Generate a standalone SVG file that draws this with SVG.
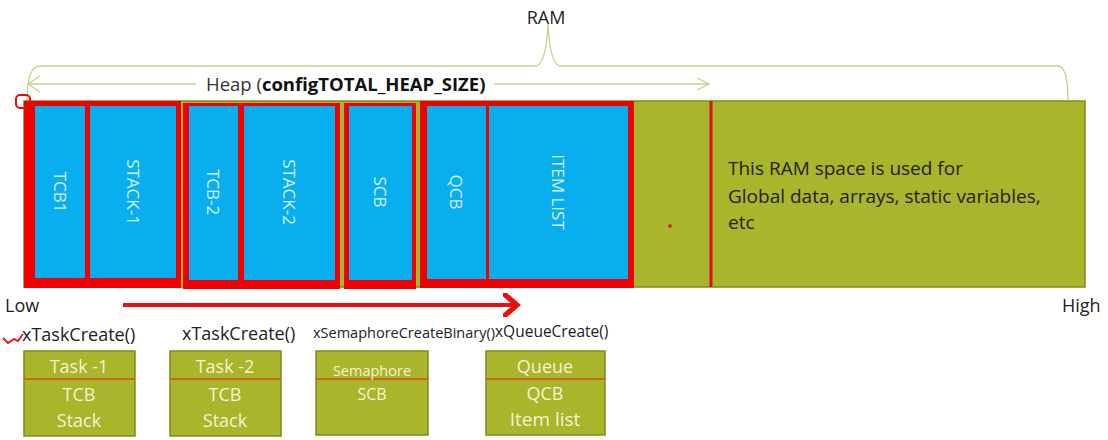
<svg xmlns="http://www.w3.org/2000/svg" width="1108" height="440" viewBox="0 0 1108 440">
<defs>
<style>
.t{font-family:"Open Sans","Liberation Sans",sans-serif;}
.blk{fill:#08AEEE;}
.red{fill:#F00000;}
.vt{font-family:"Open Sans","Liberation Sans",sans-serif;font-size:17px;fill:#D6EEF8;text-anchor:middle;dominant-baseline:central;}
.bx{fill:#A9B52B;stroke:#7E8A1C;stroke-width:1.5;}
.bt{font-family:"Open Sans","Liberation Sans",sans-serif;fill:#F2F4D4;text-anchor:middle;}
.dv{stroke:#D2611E;stroke-width:2;}
.lbl{font-family:"Open Sans","Liberation Sans",sans-serif;fill:#222;}
.br{fill:none;stroke:#C8D08A;stroke-width:1.3;}
</style>
<marker id="ra" markerWidth="6" markerHeight="6" refX="3" refY="3" orient="auto" markerUnits="strokeWidth">
<path d="M0,0 L3.5,3 L0,6" fill="none" stroke="#E81010" stroke-width="1.3"/>
</marker>
</defs>
<rect width="1108" height="440" fill="#fff"/>
<g id="ram-label"><text class="lbl" x="546" y="24" font-size="18" text-anchor="middle" fill="#444">RAM</text></g>
<g id="connectors">
<path class="br" d="M27,101 Q27,66 40,66 L535,66 Q546,66 548,24 Q550,66 561,66 L1058,66 Q1068,66 1068,101"/>
<path class="br" d="M28,84 L196,84 M494,84 L708,84"/>
<path class="br" d="M40,76 L28,84 L40,92"/>
<path class="br" d="M697,78 L709,84 L697,90"/>
<line x1="123" y1="305" x2="515" y2="305" stroke="#E81010" stroke-width="4" marker-end="url(#ra)"/>
</g>
<g id="heap-label"><text class="t" x="206" y="91" font-size="18.5" fill="#333">Heap (<tspan font-weight="bold" fill="#111">configTOTAL_HEAP_SIZE)</tspan></text></g>
<g id="ram-bar">
<rect x="24" y="101" width="1061" height="186" fill="#A9B52B" stroke="#7E8A1C" stroke-width="1.5"/>
<rect x="709.5" y="101" width="3" height="186" fill="#E01010"/>
<circle cx="670" cy="226" r="1.8" fill="#E01010"/>
</g>
<g id="task1">
<rect class="red" x="24" y="101" width="157" height="187"/>
<rect class="blk" x="35" y="106" width="50" height="172"/>
<rect class="blk" x="90" y="106" width="86" height="172"/>
<text class="vt" transform="translate(60,192) rotate(90)">TCB1</text>
<text class="vt" transform="translate(133,192) rotate(90)">STACK-1</text>
</g>
<g id="task2">
<rect class="red" x="183" y="103" width="157" height="186"/>
<rect class="blk" x="189" y="106" width="49" height="174"/>
<rect class="blk" x="244" y="106" width="91" height="174"/>
<text class="vt" transform="translate(213,192) rotate(90)">TCB-2</text>
<text class="vt" transform="translate(289,192) rotate(90)">STACK-2</text>
</g>
<g id="semaphore">
<rect class="red" x="344" y="103" width="72" height="186"/>
<rect class="blk" x="349" y="106" width="63" height="174"/>
<text class="vt" transform="translate(380,192) rotate(90)">SCB</text>
</g>
<g id="queue">
<rect class="red" x="420" y="101" width="214" height="187"/>
<rect class="blk" x="427" y="106" width="59" height="173"/>
<rect class="blk" x="489" y="106" width="139" height="173"/>
<text class="vt" transform="translate(456,192) rotate(90)">QCB</text>
<text class="vt" transform="translate(558,192) rotate(90)">ITEM LIST</text>
</g>
<g id="corner-mark"><rect x="16" y="95" width="14" height="13" rx="4" fill="none" stroke="#E01010" stroke-width="2"/></g>
<g id="global-text">
<text class="lbl" x="728" y="175" font-size="19">This RAM space is used for</text>
<text class="lbl" x="728" y="203" font-size="19">Global data, arrays, static variables,</text>
<text class="lbl" x="728" y="229" font-size="19">etc</text>
</g>
<g id="low-high">
<text class="lbl" x="5" y="312" font-size="18" fill="#333">Low</text>
<text class="lbl" x="1062" y="312" font-size="18" fill="#333">High</text>
</g>
<g id="api-labels">
<path d="M3,338 L8,343 L14,339 L18,341 L23,334" fill="none" stroke="#E01010" stroke-width="1.8"/>
<text class="lbl" x="22" y="341" font-size="18">xTaskCreate()</text>
<text class="lbl" x="182" y="340" font-size="18">xTaskCreate()</text>
<text class="lbl" x="313" y="338" font-size="14.5">xSemaphoreCreateBinary()</text>
<text class="lbl" x="495" y="337" font-size="15.5">xQueueCreate()</text>
</g>
<g id="box-task1">
<rect class="bx" x="24" y="351" width="111" height="85"/>
<line class="dv" x1="24" y1="379" x2="135" y2="379"/>
<text class="bt" x="79" y="373" font-size="18">Task -1</text>
<text class="bt" x="79" y="401" font-size="18">TCB</text>
<text class="bt" x="79" y="427" font-size="18">Stack</text>
</g>
<g id="box-task2">
<rect class="bx" x="170" y="351" width="111" height="85"/>
<line class="dv" x1="170" y1="379" x2="281" y2="379"/>
<text class="bt" x="225" y="373" font-size="18">Task -2</text>
<text class="bt" x="225" y="401" font-size="18">TCB</text>
<text class="bt" x="225" y="427" font-size="18">Stack</text>
</g>
<g id="box-semaphore">
<rect class="bx" x="316" y="351" width="112" height="84"/>
<line class="dv" x1="316" y1="379" x2="428" y2="379"/>
<text class="bt" x="372" y="376" font-size="14.5">Semaphore</text>
<text class="bt" x="372" y="400" font-size="16">SCB</text>
</g>
<g id="box-queue">
<rect class="bx" x="486" y="351" width="119" height="84"/>
<line class="dv" x1="486" y1="379" x2="605" y2="379"/>
<text class="bt" x="545" y="373" font-size="18">Queue</text>
<text class="bt" x="545" y="400" font-size="18">QCB</text>
<text class="bt" x="545" y="426" font-size="19">Item list</text>
</g>
</svg>
